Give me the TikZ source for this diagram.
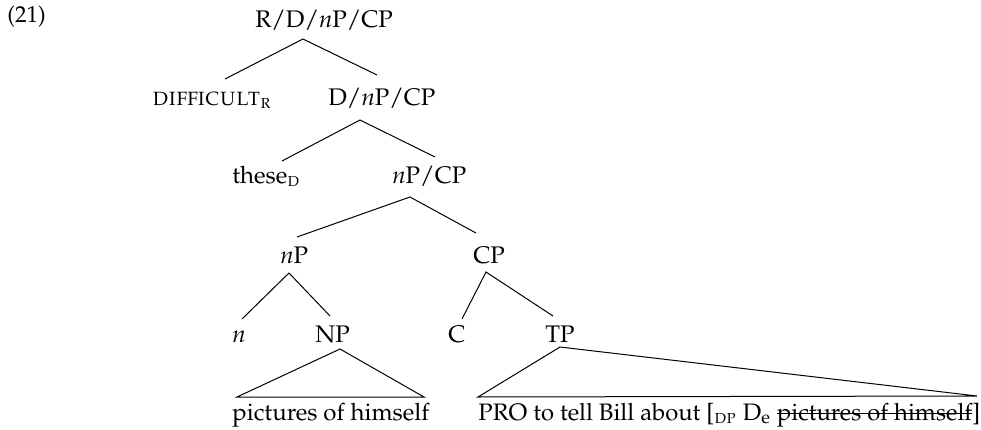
\documentclass[tikz,border=0pt]{standalone}
\usepackage[T1]{fontenc}
\usepackage{mathpazo}
% struck-through text: a rule across the box at mid x-height
\newcommand\strk[1]{\setbox0\hbox{#1}\rlap{\rule[0.25em]{\wd0}{0.6pt}}\box0}
\begin{document}
\begin{tikzpicture}[x=0.5pt,y=-0.5pt,
  lbl/.style={anchor=base west,inner sep=0pt,font=\fontsize{12}{14}\selectfont},
  branch/.style={line width=0.5pt}]
\useasboundingbox (0,0) rectangle (981,429);

% labels
\node[lbl,font=\fontsize{11.5}{14}\selectfont] (ex) at (7,22) {(21)};
\node[lbl] (root)  at (255,27)  {R/D/\textit{n}P/CP};
\node[lbl] (dif)   at (152,105) {\textsc{difficult}\textsubscript{\textsc{r}}};
\node[lbl] (dnp)   at (328,105) {D/\textit{n}P/CP};
\node[lbl] (these) at (232,183) {these\textsubscript{\textsc{d}}};
\node[lbl] (npcp)  at (392,183) {\textit{n}P/CP};
\node[lbl] (nP)    at (280,263) {\textit{n}P};
\node[lbl] (CP)    at (473,263) {CP};
\node[lbl] (n)     at (232,342) {\textit{n}};
\node[lbl] (NP)    at (315,342) {NP};
\node[lbl] (C)     at (448,342) {C};
\node[lbl] (TP)    at (545,342) {TP};
\node[lbl] (pic)   at (232,420) {pictures of himself};
\node[lbl,font=\fontsize{11.9}{14}\selectfont] (pro) at (478,420)
  {PRO to tell Bill about [\textsubscript{\textsc{dp}} D\textsubscript{e} \strk{pictures of himself}]};

% attachment points of the branches
\coordinate (root-b)  at (303,39);
\coordinate (dif-t)   at (225,79);
\coordinate (dnp-t)   at (377,75);
\coordinate (dnp-b)   at (360,120);
\coordinate (these-t) at (282,161);
\coordinate (npcp-t)  at (435,157);
\coordinate (npcp-b)  at (410,197);
\coordinate (nP-t)    at (297,237);
\coordinate (CP-t)    at (476,233);
\coordinate (nP-b)    at (289,273);
\coordinate (n-t)     at (242,319);
\coordinate (NP-t)    at (330,316);
\coordinate (CP-b)    at (486,272);
\coordinate (C-t)     at (462,319);
\coordinate (TP-t)    at (553,316);
\coordinate (NP-b)    at (340,349);
\coordinate (pic-l)   at (237,397);
\coordinate (pic-r)   at (424,397);
\coordinate (TP-b)    at (560,347);
\coordinate (pro-l)   at (478,397);
\coordinate (pro-r)   at (977,396);

% branches
\draw[branch] (dif-t) -- (root-b) -- (dnp-t);
\draw[branch] (these-t) -- (dnp-b) -- (npcp-t);
\draw[branch] (nP-t) -- (npcp-b) -- (CP-t);
\draw[branch] (n-t) -- (nP-b) -- (NP-t);
\draw[branch] (C-t) -- (CP-b) -- (TP-t);

% roofs over unanalysed material
\draw[branch] (NP-b) -- (pic-l) -- (pic-r) -- cycle;
\draw[branch] (TP-b) -- (pro-l) -- (pro-r) -- cycle;
\end{tikzpicture}
\end{document}
